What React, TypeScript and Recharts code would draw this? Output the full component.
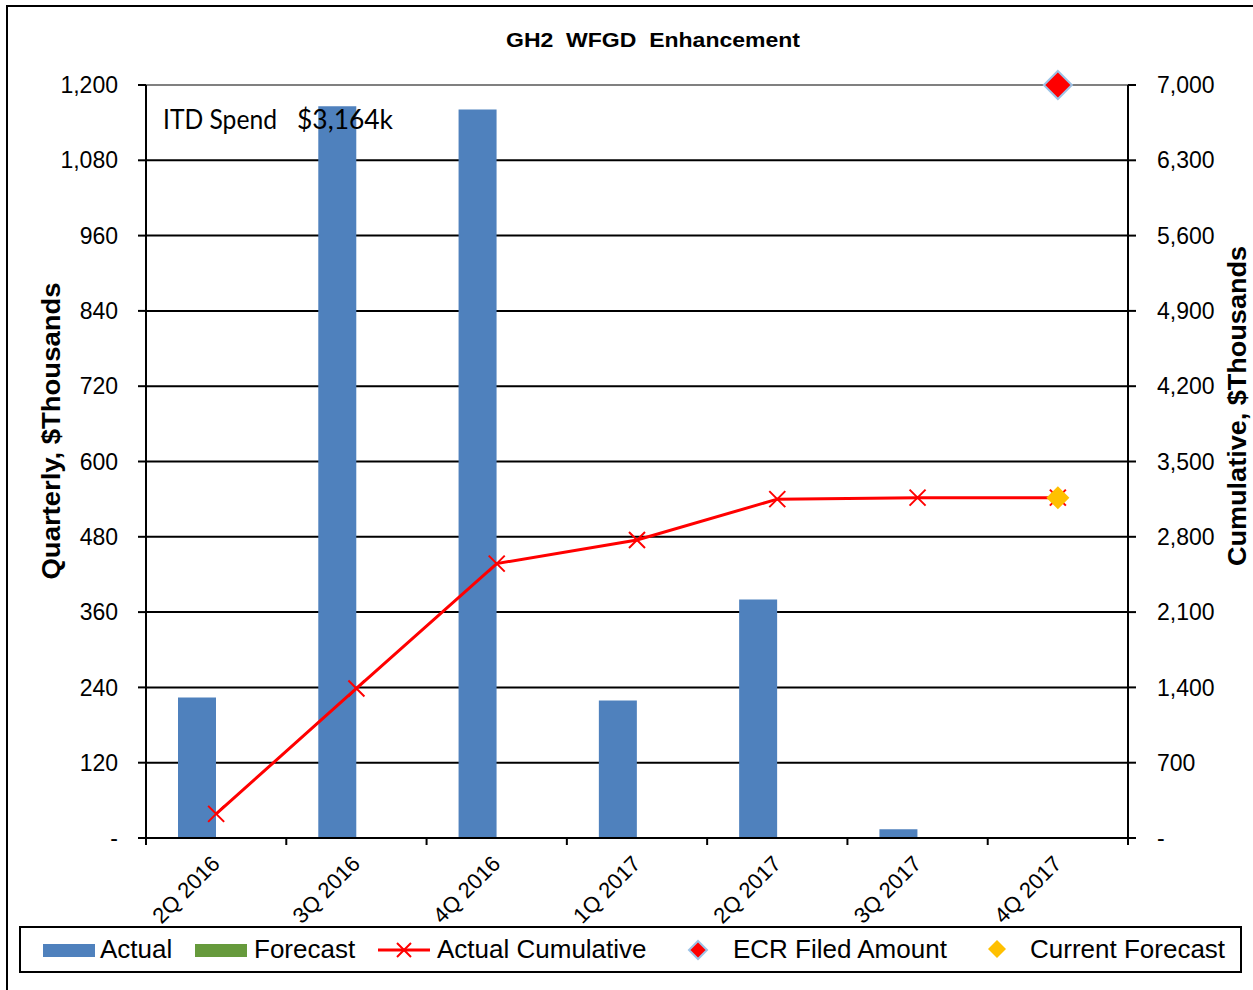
import React from 'react';
import { ComposedChart, Bar, Line, XAxis, YAxis, CartesianGrid, ReferenceLine } from 'recharts';

const categories = ['2Q 2016', '3Q 2016', '4Q 2016', '1Q 2017', '2Q 2017', '3Q 2017', '4Q 2017'];
const actual = [224, 1166, 1161, 219, 380, 14, 0];
const forecast = [0, 0, 0, 0, 0, 0, 0];
const actualCumulative = [224, 1390, 2551, 2770, 3150, 3164, 3164];
const ecrFiled: (number | null)[] = [null, null, null, null, null, null, 7000];
const currentForecast: (number | null)[] = [null, null, null, null, null, null, 3164];
const leftTicks = [0, 120, 240, 360, 480, 600, 720, 840, 960, 1080, 1200];
const rightTicks = [0, 700, 1400, 2100, 2800, 3500, 4200, 4900, 5600, 6300, 7000];

const data = categories.map((c, i) => ({
  cat: c,
  actual: actual[i],
  forecast: forecast[i],
  cum: actualCumulative[i],
  ecr: ecrFiled[i],
  cur: currentForecast[i],
}));

const W = 1253;
const H = 990;
const LEFT_W = 146;
const RIGHT_W = 125;
const TOP = 85;
const X_H = 152;
const BAND = (W - LEFT_W - RIGHT_W) / categories.length;
const FONT = '"Liberation Sans", Arial, sans-serif';

const fmt = (v: number) => (v === 0 ? '-' : v.toLocaleString('en-US'));

const XTick = (props: any) => {
  const { x, y, payload, index } = props;
  const tx = x + 5;
  const ty = y + 27;
  return (
    <g>
      <line x1={x - BAND / 2} x2={x - BAND / 2} y1={y} y2={y + 7} stroke="#000" strokeWidth={2} />
      {index === categories.length - 1 && (
        <line x1={x + BAND / 2} x2={x + BAND / 2} y1={y} y2={y + 7} stroke="#000" strokeWidth={2} />
      )}
      <text
        x={tx}
        y={ty}
        transform={`rotate(-45, ${tx}, ${ty})`}
        textAnchor="end"
        fontFamily={FONT}
        fontSize={22}
        fill="#000"
      >
        {payload.value}
      </text>
    </g>
  );
};

const XDot = (props: any) => {
  const { cx, cy, index, value } = props;
  if (cx == null || cy == null || value == null) return <g key={`x-${index}`} />;
  const s = 8;
  return (
    <path
      key={`x-${index}`}
      d={`M${cx - s},${cy - s}L${cx + s},${cy + s}M${cx - s},${cy + s}L${cx + s},${cy - s}`}
      stroke="#FF0000"
      strokeWidth={2}
      fill="none"
    />
  );
};

const makeDiamond = (r: number, fill: string, stroke: string, sw: number, keyP: string) => (props: any) => {
  const { cx, cy, index, value } = props;
  if (cx == null || cy == null || value == null) return <g key={`${keyP}-${index}`} />;
  return (
    <path
      key={`${keyP}-${index}`}
      d={`M${cx},${cy - r}L${cx + r},${cy}L${cx},${cy + r}L${cx - r},${cy}Z`}
      fill={fill}
      stroke={stroke}
      strokeWidth={sw}
    />
  );
};

const EcrDot = makeDiamond(14, '#FF0000', '#9DC3E6', 2, 'ecr');
const CurDot = makeDiamond(11.5, '#FFC000', 'none', 0, 'cur');

export default function App() {
  return (
    <div style={{ position: 'absolute', left: 0, top: 0, width: W, height: H, background: '#fff' }}>
      <div style={{ position: 'absolute', left: 0, top: 0 }}>
        <ComposedChart
          width={W}
          height={H}
          data={data}
          margin={{ top: TOP, right: 0, bottom: 0, left: 0 }}
          barGap={0}
        >
          <CartesianGrid yAxisId="left" vertical={false} stroke="#000" strokeWidth={2} />
          <XAxis
            dataKey="cat"
            height={X_H}
            interval={0}
            tickSize={0}
            tickMargin={0}
            tickLine={false}
            axisLine={{ stroke: '#000', strokeWidth: 2 }}
            tick={<XTick />}
          />
          <YAxis
            yAxisId="left"
            width={LEFT_W}
            domain={[0, 1200]}
            ticks={leftTicks}
            interval={0}
            tickFormatter={fmt}
            tickSize={8}
            tickMargin={20}
            tickLine={{ stroke: '#000', strokeWidth: 2 }}
            axisLine={{ stroke: '#000', strokeWidth: 2 }}
            tick={{ fill: '#000', fontSize: 23, fontFamily: FONT }}
          />
          <YAxis
            yAxisId="right"
            orientation="right"
            width={RIGHT_W}
            domain={[0, 7000]}
            ticks={rightTicks}
            interval={0}
            tickFormatter={fmt}
            tickSize={8}
            tickMargin={21}
            tickLine={{ stroke: '#000', strokeWidth: 2 }}
            axisLine={{ stroke: '#000', strokeWidth: 2 }}
            tick={{ fill: '#000', fontSize: 23, fontFamily: FONT }}
          />
          <ReferenceLine yAxisId="left" y={1200} stroke="#808080" strokeWidth={2} />
          <Bar yAxisId="left" dataKey="actual" fill="#4F81BD" barSize={38} isAnimationActive={false} />
          <Bar yAxisId="left" dataKey="forecast" fill="#669A3C" barSize={38} isAnimationActive={false} />
          <Line
            yAxisId="right"
            dataKey="cum"
            stroke="#FF0000"
            strokeWidth={3}
            dot={XDot}
            activeDot={false}
            isAnimationActive={false}
          />
          <Line
            yAxisId="right"
            dataKey="ecr"
            stroke="none"
            dot={EcrDot}
            activeDot={false}
            isAnimationActive={false}
          />
          <Line
            yAxisId="right"
            dataKey="cur"
            stroke="none"
            dot={CurDot}
            activeDot={false}
            isAnimationActive={false}
          />
        </ComposedChart>
      </div>
      <svg
        width={W}
        height={H}
        style={{ position: 'absolute', left: 0, top: 0, pointerEvents: 'none' }}
      >
        <rect x={7} y={6} width={W + 10} height={H + 10} fill="none" stroke="#000" strokeWidth={2} />
        <text
          x={653}
          y={47}
          textAnchor="middle"
          fontFamily={FONT}
          fontWeight="bold"
          fontSize={21}
          textLength={294}
          lengthAdjust="spacingAndGlyphs"
          style={{ whiteSpace: 'pre' }}
        >
          {'GH2  WFGD  Enhancement'}
        </text>
        <text
          x={51}
          y={431}
          transform="rotate(-90, 51, 431)"
          textAnchor="middle"
          dominantBaseline="central"
          fontFamily={FONT}
          fontWeight="bold"
          fontSize={26}
          textLength={297}
          lengthAdjust="spacingAndGlyphs"
        >
          Quarterly, $Thousands
        </text>
        <text
          x={1237}
          y={406}
          transform="rotate(-90, 1237, 406)"
          textAnchor="middle"
          dominantBaseline="central"
          fontFamily={FONT}
          fontWeight="bold"
          fontSize={26}
          textLength={320}
          lengthAdjust="spacingAndGlyphs"
        >
          Cumulative, $Thousands
        </text>
        <text x={163} y={129} fontFamily="Lato, 'Open Sans', sans-serif" fontSize={27} textLength={114} lengthAdjust="spacingAndGlyphs">
          ITD Spend
        </text>
        <text x={297} y={129} fontFamily="Lato, 'Open Sans', sans-serif" fontSize={27} textLength={96} lengthAdjust="spacingAndGlyphs">
          $3,164k
        </text>

        <rect x={20} y={927} width={1221} height={45} fill="none" stroke="#000" strokeWidth={2} />
        <rect x={43} y={944} width={52} height={13} fill="#4F81BD" />
        <text x={100} y={958} fontFamily={FONT} fontSize={26}>Actual</text>
        <rect x={195} y={944} width={52} height={13} fill="#669A3C" />
        <text x={254} y={958} fontFamily={FONT} fontSize={26}>Forecast</text>
        <line x1={378} x2={430} y1={950} y2={950} stroke="#FF0000" strokeWidth={3} />
        <path d="M397,943L411,957M397,957L411,943" stroke="#FF0000" strokeWidth={2} />
        <text x={437} y={958} fontFamily={FONT} fontSize={26}>Actual Cumulative</text>
        <path d="M698,941L707,950L698,959L689,950Z" fill="#FF0000" stroke="#9DC3E6" strokeWidth={2} />
        <text x={733} y={958} fontFamily={FONT} fontSize={26}>ECR Filed Amount</text>
        <path d="M997,940L1006,949L997,958L988,949Z" fill="#FFC000" />
        <text x={1030} y={958} fontFamily={FONT} fontSize={26}>Current Forecast</text>
      </svg>
    </div>
  );
}
